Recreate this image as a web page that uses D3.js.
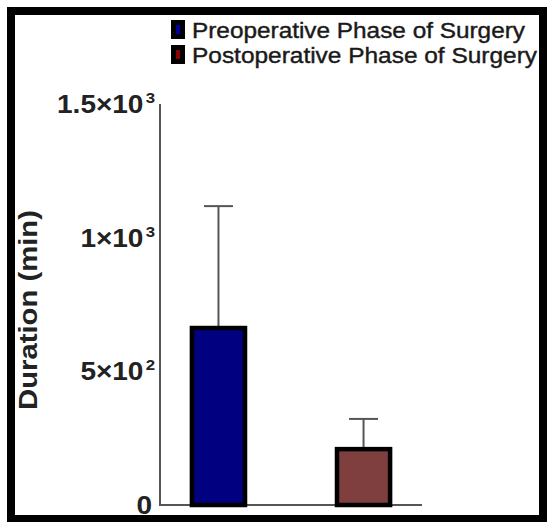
<!DOCTYPE html>
<html>
<head>
<meta charset="utf-8">
<script src="https://cdn.jsdelivr.net/npm/d3@7"></script>
<style>
  body { margin: 0; background: #fff; }
  text { font-family: "Liberation Sans", Arial, sans-serif; }
</style>
</head>
<body>
<div id="chart"></div>
<script>
// data
var groups = ["Preoperative Phase of Surgery", "Postoperative Phase of Surgery"];
var means = [662, 209];
var sds = [456, 113];
var colors = ["#000080", "#7f3f3f"];
var swatchColors = ["#0000a0", "#8b0000"];
var tickVals = [0, 500, 1000, 1500];
var tickBase = ["0", "5×10", "1×10", "1.5×10"];
var tickExp = ["", "2", "3", "3"];

var width = 548, height = 522;

var svg = d3.select("#chart").append("svg")
    .attr("width", width)
    .attr("height", height);

// outer frame
svg.append("rect")
    .attr("x", 11).attr("y", 11)
    .attr("width", 532).attr("height", 508)
    .attr("fill", "#fff")
    .attr("stroke", "#000")
    .attr("stroke-width", 8);

var y = d3.scaleLinear().domain([0, 1500]).range([505, 104]);
var x = d3.scaleBand().domain(groups).range([160, 422])
    .paddingInner(0.634).paddingOuter(0.22);

// y axis line
svg.append("line")
    .attr("x1", 160).attr("x2", 160)
    .attr("y1", y(1500)).attr("y2", y(0))
    .attr("stroke", "#555").attr("stroke-width", 2);

// x axis line
svg.append("line")
    .attr("x1", 159).attr("x2", 422)
    .attr("y1", y(0)).attr("y2", y(0))
    .attr("stroke", "#555").attr("stroke-width", 2);

// tick labels (glyphs in the original are a bit wider than Arial)
var ticks = svg.selectAll(".tick").data(tickVals).enter()
    .append("text")
    .attr("class", "tick")
    .attr("transform", function(d, i){
        var tx = tickExp[i] ? 155 : 152;
        return "translate(" + tx + "," + (y(d) + 9) + ") scale(1.12,1)";
    })
    .attr("text-anchor", "end")
    .attr("font-size", 25)
    .attr("font-weight", "bold")
    .attr("fill", "#222");
ticks.append("tspan").text(function(d, i){ return tickBase[i]; });
ticks.append("tspan")
    .attr("dy", -10)
    .attr("font-size", 15)
    .attr("dx", 2)
    .text(function(d, i){ return tickExp[i]; });

// y title
svg.append("text")
    .attr("transform", "translate(37,310) rotate(-90)")
    .attr("text-anchor", "middle")
    .attr("font-size", 25)
    .attr("font-weight", "bold")
    .attr("fill", "#222")
    .attr("textLength", 200)
    .attr("lengthAdjust", "spacingAndGlyphs")
    .text("Duration (min)");

// error bars
var err = svg.selectAll(".err").data(groups).enter().append("g").attr("class", "err");
err.append("line")
    .attr("x1", function(d){ return x(d) + x.bandwidth()/2; })
    .attr("x2", function(d){ return x(d) + x.bandwidth()/2; })
    .attr("y1", function(d, i){ return y(means[i]); })
    .attr("y2", function(d, i){ return y(means[i] + sds[i]); })
    .attr("stroke", "#555").attr("stroke-width", 2);
err.append("line")
    .attr("x1", function(d){ return x(d) + x.bandwidth()/2 - 14.5; })
    .attr("x2", function(d){ return x(d) + x.bandwidth()/2 + 14.5; })
    .attr("y1", function(d, i){ return y(means[i] + sds[i]); })
    .attr("y2", function(d, i){ return y(means[i] + sds[i]); })
    .attr("stroke", "#555").attr("stroke-width", 2);

// bars
svg.selectAll(".bar").data(groups).enter()
    .append("rect")
    .attr("class", "bar")
    .attr("x", function(d){ return x(d); })
    .attr("y", function(d, i){ return y(means[i]); })
    .attr("width", x.bandwidth())
    .attr("height", function(d, i){ return y(0) - y(means[i]); })
    .attr("fill", function(d, i){ return colors[i]; })
    .attr("stroke", "#000")
    .attr("stroke-width", 4.5);

// legend
var legLen = [333, 345];
var leg = svg.selectAll(".leg").data(groups).enter()
    .append("g")
    .attr("class", "leg")
    .attr("transform", function(d, i){ return "translate(171," + (20 + i*25) + ")"; });
leg.append("rect")
    .attr("x", 2.5).attr("y", 2.5)
    .attr("width", 9).attr("height", 14)
    .attr("fill", function(d, i){ return swatchColors[i]; })
    .attr("stroke", "#000").attr("stroke-width", 5);
leg.append("text")
    .attr("x", 21).attr("y", 17.5)
    .attr("font-size", 22)
    .attr("fill", "#1a1a1a")
    .attr("stroke", "#1a1a1a")
    .attr("stroke-width", 0.4)
    .attr("textLength", function(d, i){ return legLen[i]; })
    .attr("lengthAdjust", "spacingAndGlyphs")
    .text(function(d){ return d; });
</script>
</body>
</html>
